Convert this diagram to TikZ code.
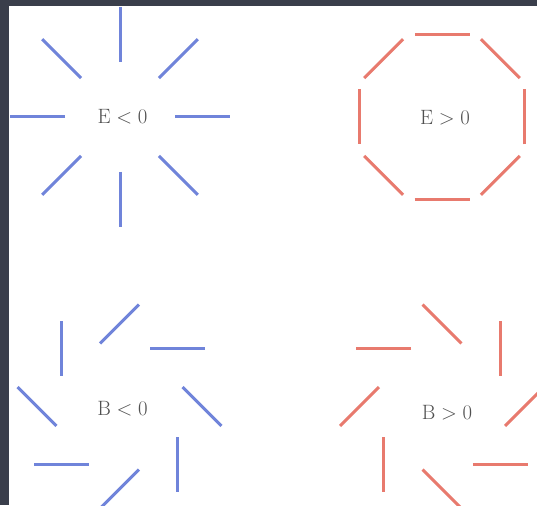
\documentclass[tikz,border=0pt]{standalone}
\definecolor{frame}{RGB}{58,62,75}
\definecolor{segblue}{RGB}{112,132,218}
\definecolor{segred}{RGB}{232,122,110}
\definecolor{lblgray}{RGB}{80,80,80}
\tikzset{
  blueseg/.style={draw=segblue,line width=3pt},
  redseg/.style={draw=segred,line width=3pt},
  lbl/.style={text=lblgray,font=\fontsize{22}{26}\selectfont,inner sep=0pt}
}
\begin{document}
\begin{tikzpicture}[x=1pt,y=1pt]
\useasboundingbox (0,0) rectangle (537,505);
\fill[frame] (0,0) rectangle (537,505);
\fill[white] (9,0) rectangle (537,499);
\clip (9,0) rectangle (537,499);
\coordinate (c1) at (120,388);
\coordinate (c2) at (442,388);
\coordinate (c3) at (119.5,98.5);
\coordinate (c4) at (442,98.5);
% E < 0 : radial
\foreach \a in {0,45,...,315}{
  \draw[blueseg] (c1) ++(\a:82.5) ++(\a:-27.5) -- ++(\a:55);
}
% E > 0 : tangential
\foreach \a in {0,45,...,315}{
  \draw[redseg] (c2) ++(\a:82.5) ++(\a+90:-27.5) -- ++(\a+90:55);
}
% B < 0 : rotated -45
\foreach \a in {0,45,...,315}{
  \draw[blueseg] (c3) ++(\a:82.5) ++(\a-45:-27.5) -- ++(\a-45:55);
}
% B > 0 : rotated +45
\foreach \a in {0,45,...,315}{
  \draw[redseg] (c4) ++(\a:82.5) ++(\a+45:-27.5) -- ++(\a+45:55);
}
\node[lbl] (l1) at (122.5,388) {$\mathrm{E}<0$};
\node[lbl] (l2) at (445,387) {$\mathrm{E}>0$};
\node[lbl] (l3) at (122.5,96.5) {$\mathrm{B}<0$};
\node[lbl] (l4) at (447,92) {$\mathrm{B}>0$};
\end{tikzpicture}
\end{document}
